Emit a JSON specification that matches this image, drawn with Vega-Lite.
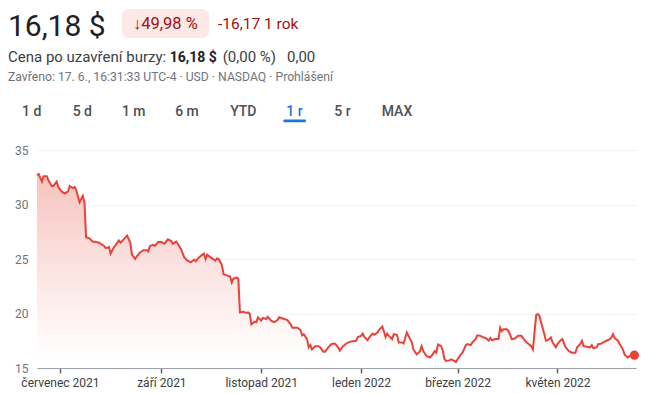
{
  "$schema": "https://vega.github.io/schema/vega-lite/v6.json",
  "width": 599,
  "height": 218,
  "autosize": {"type": "none"},
  "padding": {"left": 37, "top": 150, "right": 14, "bottom": 26},
  "background": "#ffffff",
  "config": {"view": {"stroke": null}, "font": "Roboto", "text": {"font": "Roboto"}},
  "datasets": {
    "price": [
      {"date": "2021-06-17", "price": 32.7}, {"date": "2021-06-18", "price": 32.8}, {"date": "2021-06-20", "price": 32.1},
      {"date": "2021-06-21", "price": 32.6}, {"date": "2021-06-23", "price": 32.6}, {"date": "2021-06-24", "price": 32.2},
      {"date": "2021-06-26", "price": 31.7}, {"date": "2021-06-27", "price": 31.7}, {"date": "2021-06-29", "price": 32.1},
      {"date": "2021-06-30", "price": 31.6}, {"date": "2021-07-02", "price": 31.2}, {"date": "2021-07-04", "price": 31.0},
      {"date": "2021-07-06", "price": 31.2}, {"date": "2021-07-07", "price": 31.7}, {"date": "2021-07-09", "price": 31.5},
      {"date": "2021-07-10", "price": 31.6}, {"date": "2021-07-11", "price": 31.3}, {"date": "2021-07-13", "price": 30.2},
      {"date": "2021-07-14", "price": 30.5}, {"date": "2021-07-15", "price": 30.8}, {"date": "2021-07-16", "price": 30.2},
      {"date": "2021-07-17", "price": 27.0}, {"date": "2021-07-19", "price": 26.9}, {"date": "2021-07-21", "price": 26.6},
      {"date": "2021-07-23", "price": 26.55}, {"date": "2021-07-25", "price": 26.5}, {"date": "2021-07-28", "price": 26.2},
      {"date": "2021-07-29", "price": 26.0}, {"date": "2021-07-31", "price": 26.1}, {"date": "2021-08-01", "price": 25.5},
      {"date": "2021-08-03", "price": 26.1}, {"date": "2021-08-04", "price": 26.25}, {"date": "2021-08-06", "price": 26.7},
      {"date": "2021-08-07", "price": 26.5}, {"date": "2021-08-09", "price": 26.8}, {"date": "2021-08-11", "price": 27.15},
      {"date": "2021-08-13", "price": 26.5}, {"date": "2021-08-14", "price": 25.4}, {"date": "2021-08-16", "price": 25.0},
      {"date": "2021-08-17", "price": 25.25}, {"date": "2021-08-19", "price": 25.6}, {"date": "2021-08-21", "price": 25.8},
      {"date": "2021-08-23", "price": 25.8}, {"date": "2021-08-24", "price": 25.7}, {"date": "2021-08-25", "price": 26.2},
      {"date": "2021-08-27", "price": 26.3}, {"date": "2021-08-28", "price": 26.2}, {"date": "2021-08-30", "price": 26.55},
      {"date": "2021-09-01", "price": 26.55}, {"date": "2021-09-03", "price": 26.4}, {"date": "2021-09-05", "price": 26.8},
      {"date": "2021-09-07", "price": 26.65}, {"date": "2021-09-08", "price": 26.4}, {"date": "2021-09-10", "price": 26.6},
      {"date": "2021-09-11", "price": 26.4}, {"date": "2021-09-13", "price": 25.9}, {"date": "2021-09-15", "price": 25.15},
      {"date": "2021-09-17", "price": 24.85}, {"date": "2021-09-19", "price": 24.7}, {"date": "2021-09-21", "price": 24.95},
      {"date": "2021-09-22", "price": 24.8}, {"date": "2021-09-24", "price": 25.15}, {"date": "2021-09-26", "price": 25.4},
      {"date": "2021-09-27", "price": 25.5}, {"date": "2021-09-28", "price": 25.0}, {"date": "2021-09-29", "price": 25.4},
      {"date": "2021-10-01", "price": 25.15}, {"date": "2021-10-02", "price": 25.05}, {"date": "2021-10-04", "price": 24.85},
      {"date": "2021-10-05", "price": 25.05}, {"date": "2021-10-06", "price": 25.0}, {"date": "2021-10-08", "price": 24.45},
      {"date": "2021-10-09", "price": 23.6}, {"date": "2021-10-11", "price": 23.5}, {"date": "2021-10-13", "price": 23.4},
      {"date": "2021-10-14", "price": 22.85}, {"date": "2021-10-15", "price": 23.2}, {"date": "2021-10-17", "price": 23.3},
      {"date": "2021-10-18", "price": 23.2}, {"date": "2021-10-19", "price": 20.1}, {"date": "2021-10-21", "price": 20.15},
      {"date": "2021-10-23", "price": 20.05}, {"date": "2021-10-24", "price": 20.1}, {"date": "2021-10-25", "price": 19.95},
      {"date": "2021-10-26", "price": 19.0}, {"date": "2021-10-28", "price": 19.25}, {"date": "2021-10-29", "price": 19.2},
      {"date": "2021-10-30", "price": 19.65}, {"date": "2021-11-01", "price": 19.35}, {"date": "2021-11-02", "price": 19.6},
      {"date": "2021-11-04", "price": 19.5}, {"date": "2021-11-05", "price": 19.7}, {"date": "2021-11-07", "price": 19.35},
      {"date": "2021-11-09", "price": 19.2}, {"date": "2021-11-11", "price": 19.4}, {"date": "2021-11-12", "price": 19.65},
      {"date": "2021-11-15", "price": 19.5}, {"date": "2021-11-17", "price": 19.4}, {"date": "2021-11-19", "price": 19.0},
      {"date": "2021-11-20", "price": 18.7}, {"date": "2021-11-23", "price": 18.7}, {"date": "2021-11-25", "price": 18.5},
      {"date": "2021-11-26", "price": 18.0}, {"date": "2021-11-27", "price": 18.1}, {"date": "2021-11-29", "price": 17.65},
      {"date": "2021-11-30", "price": 16.9}, {"date": "2021-12-01", "price": 17.1}, {"date": "2021-12-02", "price": 16.7},
      {"date": "2021-12-04", "price": 17.0}, {"date": "2021-12-06", "price": 17.0}, {"date": "2021-12-07", "price": 16.9},
      {"date": "2021-12-09", "price": 16.5}, {"date": "2021-12-10", "price": 16.5}, {"date": "2021-12-12", "price": 16.9},
      {"date": "2021-12-14", "price": 17.2}, {"date": "2021-12-16", "price": 17.25}, {"date": "2021-12-18", "price": 16.9},
      {"date": "2021-12-19", "price": 16.6}, {"date": "2021-12-21", "price": 17.0}, {"date": "2021-12-23", "price": 17.25},
      {"date": "2021-12-25", "price": 17.4}, {"date": "2021-12-27", "price": 17.45}, {"date": "2021-12-29", "price": 17.5},
      {"date": "2021-12-30", "price": 17.85}, {"date": "2022-01-01", "price": 17.95}, {"date": "2022-01-02", "price": 18.15},
      {"date": "2022-01-03", "price": 17.85}, {"date": "2022-01-05", "price": 17.55}, {"date": "2022-01-06", "price": 17.8},
      {"date": "2022-01-08", "price": 18.15}, {"date": "2022-01-09", "price": 18.05}, {"date": "2022-01-11", "price": 18.25},
      {"date": "2022-01-12", "price": 18.5}, {"date": "2022-01-14", "price": 18.8}, {"date": "2022-01-15", "price": 18.35},
      {"date": "2022-01-16", "price": 17.85}, {"date": "2022-01-17", "price": 18.15}, {"date": "2022-01-18", "price": 17.95},
      {"date": "2022-01-20", "price": 17.65}, {"date": "2022-01-21", "price": 18.1}, {"date": "2022-01-23", "price": 18.05},
      {"date": "2022-01-24", "price": 17.35}, {"date": "2022-01-26", "price": 17.35}, {"date": "2022-01-27", "price": 17.25},
      {"date": "2022-01-29", "price": 18.25}, {"date": "2022-01-30", "price": 17.95}, {"date": "2022-02-01", "price": 17.35},
      {"date": "2022-02-02", "price": 16.7}, {"date": "2022-02-04", "price": 16.25}, {"date": "2022-02-06", "price": 16.55},
      {"date": "2022-02-07", "price": 17.0}, {"date": "2022-02-08", "price": 16.55}, {"date": "2022-02-10", "price": 16.1},
      {"date": "2022-02-12", "price": 15.95}, {"date": "2022-02-13", "price": 16.1}, {"date": "2022-02-15", "price": 16.55},
      {"date": "2022-02-16", "price": 16.4}, {"date": "2022-02-17", "price": 17.15}, {"date": "2022-02-19", "price": 17.0},
      {"date": "2022-02-20", "price": 16.55}, {"date": "2022-02-21", "price": 15.8}, {"date": "2022-02-22", "price": 15.65},
      {"date": "2022-02-24", "price": 15.7}, {"date": "2022-02-25", "price": 15.8}, {"date": "2022-02-27", "price": 15.65},
      {"date": "2022-02-28", "price": 15.55}, {"date": "2022-03-01", "price": 15.8}, {"date": "2022-03-03", "price": 16.25},
      {"date": "2022-03-04", "price": 16.4}, {"date": "2022-03-06", "price": 17.1}, {"date": "2022-03-07", "price": 17.2},
      {"date": "2022-03-09", "price": 17.1}, {"date": "2022-03-10", "price": 17.35}, {"date": "2022-03-12", "price": 17.65},
      {"date": "2022-03-13", "price": 18.0}, {"date": "2022-03-15", "price": 17.95}, {"date": "2022-03-16", "price": 17.85},
      {"date": "2022-03-18", "price": 17.75}, {"date": "2022-03-19", "price": 17.65}, {"date": "2022-03-20", "price": 17.5},
      {"date": "2022-03-21", "price": 17.75}, {"date": "2022-03-22", "price": 17.55}, {"date": "2022-03-24", "price": 17.65},
      {"date": "2022-03-26", "price": 17.65}, {"date": "2022-03-27", "price": 18.7}, {"date": "2022-03-28", "price": 18.4},
      {"date": "2022-03-29", "price": 18.55}, {"date": "2022-03-31", "price": 18.55}, {"date": "2022-04-01", "price": 18.4},
      {"date": "2022-04-02", "price": 18.1}, {"date": "2022-04-03", "price": 17.65}, {"date": "2022-04-05", "price": 17.7},
      {"date": "2022-04-07", "price": 17.95}, {"date": "2022-04-09", "price": 17.95}, {"date": "2022-04-10", "price": 17.75},
      {"date": "2022-04-12", "price": 17.35}, {"date": "2022-04-13", "price": 17.25}, {"date": "2022-04-15", "price": 17.0},
      {"date": "2022-04-16", "price": 16.7}, {"date": "2022-04-18", "price": 19.85}, {"date": "2022-04-19", "price": 19.95},
      {"date": "2022-04-20", "price": 19.8}, {"date": "2022-04-21", "price": 19.2}, {"date": "2022-04-23", "price": 18.1},
      {"date": "2022-04-24", "price": 17.5}, {"date": "2022-04-25", "price": 17.55}, {"date": "2022-04-27", "price": 17.8},
      {"date": "2022-04-28", "price": 17.35}, {"date": "2022-04-30", "price": 16.9}, {"date": "2022-05-01", "price": 17.2},
      {"date": "2022-05-03", "price": 17.55}, {"date": "2022-05-04", "price": 17.65}, {"date": "2022-05-05", "price": 17.25},
      {"date": "2022-05-06", "price": 16.9}, {"date": "2022-05-08", "price": 16.55}, {"date": "2022-05-10", "price": 16.4},
      {"date": "2022-05-12", "price": 16.4}, {"date": "2022-05-13", "price": 16.9}, {"date": "2022-05-15", "price": 17.2},
      {"date": "2022-05-16", "price": 17.5}, {"date": "2022-05-17", "price": 17.0}, {"date": "2022-05-19", "price": 16.95},
      {"date": "2022-05-21", "price": 16.9}, {"date": "2022-05-22", "price": 17.1}, {"date": "2022-05-23", "price": 16.8},
      {"date": "2022-05-25", "price": 16.9}, {"date": "2022-05-26", "price": 17.2}, {"date": "2022-05-27", "price": 17.2},
      {"date": "2022-05-29", "price": 17.35}, {"date": "2022-05-31", "price": 17.5}, {"date": "2022-06-02", "price": 17.65},
      {"date": "2022-06-03", "price": 17.8}, {"date": "2022-06-04", "price": 18.1}, {"date": "2022-06-05", "price": 17.75},
      {"date": "2022-06-07", "price": 17.5}, {"date": "2022-06-08", "price": 17.2}, {"date": "2022-06-10", "price": 16.7},
      {"date": "2022-06-11", "price": 16.25}, {"date": "2022-06-13", "price": 15.95}, {"date": "2022-06-14", "price": 16.1},
      {"date": "2022-06-17", "price": 16.18}
    ]
  },
  "layer": [
    {
      "data": {"name": "price"},
      "encoding": {
        "x": {
          "field": "date",
          "type": "temporal",
          "scale": {"type": "utc", "domain": [{"year": 2021, "month": 6, "date": 17, "utc": true}, {"year": 2022, "month": 6, "date": 18, "utc": true}]},
          "axis": {
            "title": null,
            "grid": false,
            "values": [
              {"year": 2021, "month": 7, "date": 1, "utc": true},
              {"year": 2021, "month": 9, "date": 1, "utc": true},
              {"year": 2021, "month": 11, "date": 1, "utc": true},
              {"year": 2022, "month": 1, "date": 1, "utc": true},
              {"year": 2022, "month": 3, "date": 1, "utc": true},
              {"year": 2022, "month": 5, "date": 1, "utc": true}
            ],
            "labelExpr": "['leden','únor','březen','duben','květen','červen','červenec','srpen','září','říjen','listopad','prosinec'][utcmonth(datum.value)] + ' ' + utcyear(datum.value)",
            "domainColor": "#9aa0a6",
            "domainWidth": 1,
            "tickColor": "#5f6368",
            "tickWidth": 1.5,
            "tickSize": 5,
            "labelPadding": 4,
            "labelFont": "Roboto",
            "labelFontSize": 12,
            "labelColor": "#3c4043",
            "labelFlush": false,
            "labelOverlap": false
          }
        },
        "y": {
          "field": "price",
          "type": "quantitative",
          "scale": {"domain": [15, 35], "zero": false, "nice": false},
          "axis": {
            "title": null,
            "values": [15, 20, 25, 30, 35],
            "domain": false,
            "ticks": false,
            "gridColor": "#f1f3f4",
            "gridWidth": 1,
            "labelPadding": 9,
            "labelFont": "Roboto",
            "labelFontSize": 12,
            "labelColor": "#70757a"
          }
        }
      },
      "layer": [
        {
          "mark": {
            "type": "area",
            "line": false,
            "color": {
              "gradient": "linear",
              "x1": 0, "y1": 0, "x2": 0, "y2": 1,
              "stops": [
                {"offset": 0, "color": "#f7c3be"},
                {"offset": 0.5, "color": "#fce4e2"},
                {"offset": 0.95, "color": "#ffffff"},
                {"offset": 1, "color": "#ffffff"}
              ]
            }
          },
          "encoding": {"y2": {"datum": 15}}
        },
        {"mark": {"type": "line", "color": "#e8433a", "strokeWidth": 2}},
        {
          "transform": [{"filter": "datum.price == 16.18"}],
          "mark": {"type": "point", "filled": true, "size": 85, "color": "#ea4335", "opacity": 1}
        }
      ]
    },
    {
      "data": {"values": [{"t": "16,18 $"}]},
      "mark": {"type": "text", "x": -29, "y": -114, "align": "left", "baseline": "alphabetic", "fontSize": 30, "color": "#202124", "font": "Roboto"},
      "encoding": {"text": {"field": "t"}}
    },
    {
      "data": {"values": [{}]},
      "mark": {"type": "rect", "x": 85, "x2": 172, "y": -141, "y2": -112, "cornerRadius": 7, "color": "#fce8e6"},
      "encoding": {}
    },
    {
      "data": {"values": [{"t": "↓49,98 %"}]},
      "mark": {"type": "text", "x": 96, "y": -121, "align": "left", "baseline": "alphabetic", "fontSize": 16.5, "color": "#a50e0e", "font": "Roboto"},
      "encoding": {"text": {"field": "t"}}
    },
    {
      "data": {"values": [{"t": "-16,17 1 rok"}]},
      "mark": {"type": "text", "x": 181, "y": -121, "align": "left", "baseline": "alphabetic", "fontSize": 15.5, "color": "#a50e0e", "font": "Roboto"},
      "encoding": {"text": {"field": "t"}}
    },
    {
      "data": {"values": [{"t": "Cena po uzavření burzy:"}]},
      "mark": {"type": "text", "x": -29, "y": -88, "align": "left", "baseline": "alphabetic", "fontSize": 15, "color": "#3c4043", "font": "Roboto"},
      "encoding": {"text": {"field": "t"}}
    },
    {
      "data": {"values": [{"t": "16,18 $"}]},
      "mark": {"type": "text", "x": 156.3, "y": -88, "align": "center", "baseline": "alphabetic", "fontSize": 14, "fontWeight": "bold", "color": "#202124", "font": "Roboto"},
      "encoding": {"text": {"field": "t"}}
    },
    {
      "data": {"values": [{"t": "(0,00 %)"}]},
      "mark": {"type": "text", "x": 185.7, "y": -88, "align": "left", "baseline": "alphabetic", "fontSize": 15, "color": "#3c4043", "font": "Roboto"},
      "encoding": {"text": {"field": "t"}}
    },
    {
      "data": {"values": [{"t": "0,00"}]},
      "mark": {"type": "text", "x": 250, "y": -88, "align": "left", "baseline": "alphabetic", "fontSize": 15, "color": "#3c4043", "font": "Roboto"},
      "encoding": {"text": {"field": "t"}}
    },
    {
      "data": {"values": [{"t": "Zavřeno: 17. 6., 16:31:33 UTC-4 · USD · NASDAQ · Prohlášení"}]},
      "mark": {"type": "text", "x": -29, "y": -69, "align": "left", "baseline": "alphabetic", "fontSize": 12.2, "color": "#70757a", "font": "Roboto"},
      "encoding": {"text": {"field": "t"}}
    },
    {
      "data": {"values": [{"t": "1 d"}]},
      "mark": {"type": "text", "x": -5.3, "y": -34, "align": "center", "baseline": "alphabetic", "fontSize": 14, "fontWeight": 500, "color": "#4d5156", "font": "Roboto"},
      "encoding": {"text": {"field": "t"}}
    },
    {
      "data": {"values": [{"t": "5 d"}]},
      "mark": {"type": "text", "x": 45.3, "y": -34, "align": "center", "baseline": "alphabetic", "fontSize": 14, "fontWeight": 500, "color": "#4d5156", "font": "Roboto"},
      "encoding": {"text": {"field": "t"}}
    },
    {
      "data": {"values": [{"t": "1 m"}]},
      "mark": {"type": "text", "x": 96.7, "y": -34, "align": "center", "baseline": "alphabetic", "fontSize": 14, "fontWeight": 500, "color": "#4d5156", "font": "Roboto"},
      "encoding": {"text": {"field": "t"}}
    },
    {
      "data": {"values": [{"t": "6 m"}]},
      "mark": {"type": "text", "x": 150, "y": -34, "align": "center", "baseline": "alphabetic", "fontSize": 14, "fontWeight": 500, "color": "#4d5156", "font": "Roboto"},
      "encoding": {"text": {"field": "t"}}
    },
    {
      "data": {"values": [{"t": "YTD"}]},
      "mark": {"type": "text", "x": 206.3, "y": -34, "align": "center", "baseline": "alphabetic", "fontSize": 14, "fontWeight": 500, "color": "#4d5156", "font": "Roboto"},
      "encoding": {"text": {"field": "t"}}
    },
    {
      "data": {"values": [{"t": "1 r"}]},
      "mark": {"type": "text", "x": 257.5, "y": -34, "align": "center", "baseline": "alphabetic", "fontSize": 14, "fontWeight": 500, "color": "#1a73e8", "font": "Roboto"},
      "encoding": {"text": {"field": "t"}}
    },
    {
      "data": {"values": [{"t": "5 r"}]},
      "mark": {"type": "text", "x": 305.5, "y": -34, "align": "center", "baseline": "alphabetic", "fontSize": 14, "fontWeight": 500, "color": "#4d5156", "font": "Roboto"},
      "encoding": {"text": {"field": "t"}}
    },
    {
      "data": {"values": [{"t": "MAX"}]},
      "mark": {"type": "text", "x": 360, "y": -34, "align": "center", "baseline": "alphabetic", "fontSize": 14, "fontWeight": 500, "color": "#4d5156", "font": "Roboto"},
      "encoding": {"text": {"field": "t"}}
    },
    {
      "data": {"values": [{}]},
      "mark": {"type": "rect", "x": 246.3, "x2": 269, "y": -30.5, "y2": -27.7, "cornerRadius": 1.5, "color": "#1a73e8"},
      "encoding": {}
    }
  ]
}
